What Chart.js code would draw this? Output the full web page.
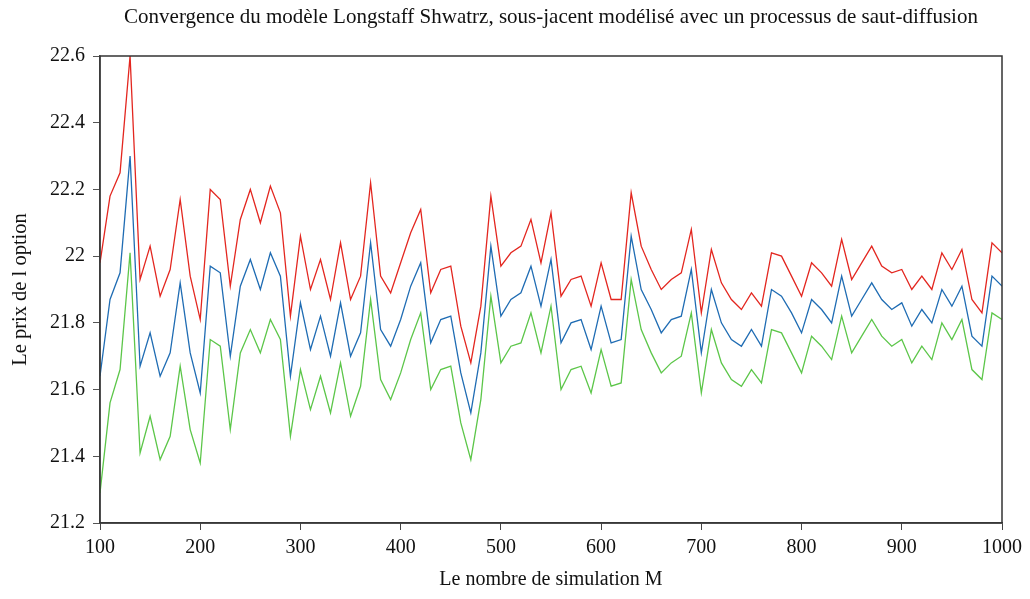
<!DOCTYPE html>
<html>
<head>
<meta charset="utf-8">
<script src="https://cdn.jsdelivr.net/npm/chart.js@4.4.1/dist/chart.umd.min.js"></script>
<style>
    html, body { margin: 0; padding: 0; background: #fff; }
    #wrap { width: 1030px; height: 599px; }
</style>
</head>
<body>
<div id="wrap"><canvas id="convChart" width="1030" height="599"></canvas></div>
<script>
// nombre de simulations M
const simM = [100,110,120,130,140,150,160,170,180,190,200,210,220,230,240,250,260,270,280,290,
    300,310,320,330,340,350,360,370,380,390,400,410,420,430,440,450,460,470,480,490,
    500,510,520,530,540,550,560,570,580,590,600,610,620,630,640,650,660,670,680,690,
    700,710,720,730,740,750,760,770,780,790,800,810,820,830,840,850,860,870,880,890,
    900,910,920,930,940,950,960,970,980,990,1000];

// borne haute (rouge)
const upperPrice = [21.98,22.18,22.25,22.60,21.93,22.03,21.88,21.96,22.17,21.94,21.81,22.20,22.17,21.91,22.11,22.20,22.10,22.21,22.13,21.82,
    22.06,21.90,21.99,21.87,22.04,21.87,21.94,22.22,21.94,21.89,21.98,22.07,22.14,21.89,21.96,21.97,21.79,21.68,21.85,22.18,
    21.97,22.01,22.03,22.11,21.98,22.13,21.88,21.93,21.94,21.85,21.98,21.87,21.87,22.19,22.03,21.96,21.90,21.93,21.95,22.08,
    21.83,22.02,21.92,21.87,21.84,21.89,21.85,22.01,22.00,21.94,21.88,21.98,21.95,21.91,22.05,21.93,21.98,22.03,21.97,21.95,
    21.96,21.90,21.94,21.90,22.01,21.96,22.02,21.87,21.83,22.04,22.01];

// prix estime (bleu)
const meanPrice = [21.64,21.87,21.95,22.30,21.67,21.77,21.64,21.71,21.92,21.71,21.59,21.97,21.95,21.70,21.91,21.99,21.90,22.01,21.94,21.64,
    21.86,21.72,21.82,21.70,21.86,21.70,21.77,22.04,21.78,21.73,21.81,21.91,21.98,21.74,21.81,21.82,21.65,21.53,21.71,22.03,
    21.82,21.87,21.89,21.97,21.85,21.99,21.74,21.80,21.81,21.72,21.85,21.74,21.75,22.06,21.90,21.84,21.77,21.81,21.82,21.96,
    21.71,21.90,21.80,21.75,21.73,21.78,21.73,21.90,21.88,21.83,21.77,21.87,21.84,21.80,21.94,21.82,21.87,21.92,21.87,21.84,
    21.86,21.79,21.84,21.80,21.90,21.85,21.91,21.76,21.73,21.94,21.91];

// borne basse (vert)
const lowerPrice = [21.29,21.56,21.66,22.01,21.41,21.52,21.39,21.46,21.67,21.48,21.38,21.75,21.73,21.48,21.71,21.78,21.71,21.81,21.75,21.46,
    21.66,21.54,21.64,21.53,21.68,21.52,21.61,21.87,21.63,21.57,21.65,21.75,21.83,21.60,21.66,21.67,21.50,21.39,21.57,21.88,
    21.68,21.73,21.74,21.83,21.71,21.85,21.60,21.66,21.67,21.59,21.72,21.61,21.62,21.93,21.78,21.71,21.65,21.68,21.70,21.83,
    21.59,21.78,21.68,21.63,21.61,21.66,21.62,21.78,21.77,21.71,21.65,21.76,21.73,21.69,21.82,21.71,21.76,21.81,21.76,21.73,
    21.75,21.68,21.73,21.69,21.80,21.75,21.81,21.66,21.63,21.83,21.81];

const fontFam = "'Liberation Serif', 'DejaVu Serif', serif";

function toPoints(values){
    return values.map((v, i) => ({x: simM[i], y: v}));
}

// cadre autour de la zone de tracé
const frame = {
    id: "frame",
    afterDraw(chart){
        const {ctx, chartArea} = chart;
        ctx.save();
        ctx.strokeStyle = "#333";
        ctx.lineWidth = 1.5;
        ctx.strokeRect(chartArea.left, chartArea.top, chartArea.right - chartArea.left, chartArea.bottom - chartArea.top);
        ctx.restore();
    }
};

const ctx = document.getElementById("convChart").getContext("2d");
new Chart(ctx, {
    type: "line",
    data: {
        datasets: [
            {
                label: "Borne haute",
                data: toPoints(upperPrice),
                borderColor: "#e3261f",
                borderWidth: 1.3,
                pointRadius: 0,
                tension: 0,
                fill: false
            },
            {
                label: "Prix",
                data: toPoints(meanPrice),
                borderColor: "#1f6cb3",
                borderWidth: 1.3,
                pointRadius: 0,
                tension: 0,
                fill: false
            },
            {
                label: "Borne basse",
                data: toPoints(lowerPrice),
                borderColor: "#5cc649",
                borderWidth: 1.3,
                pointRadius: 0,
                tension: 0,
                fill: false
            }
        ]
    },
    options: {
        responsive: false,
        animation: false,
        layout: {padding: {right: 28}},
        plugins: {
            legend: {display: false},
            tooltip: {enabled: false},
            title: {
                display: true,
                fullSize: false,
                text: "Convergence du modèle Longstaff Shwatrz, sous-jacent modélisé avec un processus de saut-diffusion",
                color: "#111",
                font: {family: fontFam, size: 21, weight: "normal"},
                padding: {top: 4.5, bottom: 26.3}
            }
        },
        scales: {
            x: {
                type: "linear",
                min: 100,
                max: 1000,
                afterFit: (scale) => { scale.height = 76; },
                ticks: {
                    stepSize: 100,
                    color: "#111",
                    padding: 6,
                    maxRotation: 0,
                    font: {family: fontFam, size: 20},
                    callback: (v) => String(v)
                },
                grid: {drawOnChartArea: false, drawTicks: true, tickLength: 7, color: "#444"},
                border: {display: true, color: "#444", width: 1.5},
                title: {
                    display: true,
                    text: "Le nombre de simulation M",
                    color: "#111",
                    font: {family: fontFam, size: 20},
                    padding: {top: 0, bottom: 7}
                }
            },
            y: {
                min: 21.2,
                max: 22.6,
                afterFit: (scale) => { scale.width = 100; },
                ticks: {
                    stepSize: 0.2,
                    color: "#111",
                    padding: 8,
                    font: {family: fontFam, size: 20},
                    callback: (v) => String(+v.toFixed(1))
                },
                grid: {drawOnChartArea: false, drawTicks: true, tickLength: 7, color: "#555"},
                border: {display: true, color: "#555", width: 1.5},
                title: {
                    display: true,
                    text: "Le prix de l option",
                    color: "#111",
                    font: {family: fontFam, size: 20.5},
                    padding: {top: 8, bottom: 0}
                }
            }
        }
    },
    plugins: [frame]
});
</script>
</body>
</html>
